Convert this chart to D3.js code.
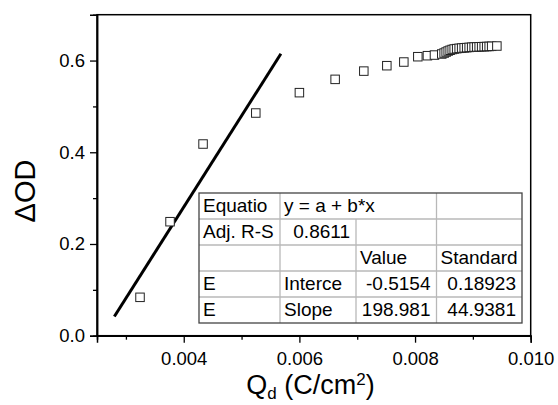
<!DOCTYPE html>
<html>
<head>
<meta charset="utf-8">
<script src="https://cdn.jsdelivr.net/npm/d3@7"></script>
<style>
  body { margin: 0; background: #fff; }
  svg { font-family: Arial, "Liberation Sans", sans-serif; }
</style>
</head>
<body>
<svg id="chart" width="558" height="405"></svg>
<script>
// measured points (Q_d, dOD)
const qd = [0.003244, 0.003763, 0.004334, 0.005246, 0.0060, 0.006618, 0.007114, 0.007512,
  0.007806, 0.008048, 0.008214, 0.008336, 0.008462, 0.008503, 0.008538, 0.008573,
  0.008607, 0.008642, 0.008677, 0.008720, 0.008763, 0.008806, 0.008850, 0.008893,
  0.008936, 0.008979, 0.009022, 0.009066, 0.009109, 0.009152, 0.009196, 0.009239,
  0.009282, 0.009325, 0.009415];
const dod = [0.0837, 0.2486, 0.418, 0.4856, 0.530, 0.559, 0.577, 0.5888,
  0.5968, 0.6084, 0.6106, 0.612, 0.6143, 0.6164, 0.6186, 0.6208,
  0.6225, 0.6241, 0.6252, 0.6260, 0.6267, 0.6273, 0.6278, 0.6282,
  0.6287, 0.6291, 0.6295, 0.6297, 0.6300, 0.6302, 0.6304, 0.6306,
  0.6308, 0.6311, 0.6317];

// linear fit y = a + b*x
const fitA = -0.5154;
const fitB = 198.981;
const fitRange = [0.0028, 0.00568];

const xTicks = [0.004, 0.006, 0.008, 0.010];
const xMinor = [0.003, 0.005, 0.007, 0.009];
const yTicks = [0.0, 0.2, 0.4, 0.6];
const yMinor = [0.1, 0.3, 0.5];

// fit results table (null = merged with the cell on its left)
const tableRows = [
  ["Equatio", "y = a + b*x", null, ""],
  ["Adj. R-S", "0.8611", "", ""],
  ["", "", "Value", "Standard"],
  ["E", "Interce", "-0.5154", "0.18923"],
  ["E", "Slope", "198.981", "44.9381"]
];

const svg = d3.select("#chart");
const pLeft = 97, pRight = 530.7, pTop = 14.7, pBottom = 335.7;

const x = d3.scaleLinear().domain([0.0025, 0.010]).range([pLeft, pRight]);
const y = d3.scaleLinear().domain([0, 0.7]).range([pBottom, pTop]);

// frame
svg.append("rect")
  .attr("x", pLeft).attr("y", pTop)
  .attr("width", pRight - pLeft).attr("height", pBottom - pTop)
  .attr("fill", "none").attr("stroke", "#000").attr("stroke-width", 1.5);

// axes
svg.append("g").attr("transform", `translate(0,${pBottom})`)
  .call(d3.axisBottom(x).tickValues(xTicks).tickSize(7).tickPadding(9)
    .tickFormat(d3.format(".3f")));
svg.append("g").attr("transform", `translate(0,${pBottom})`)
  .call(d3.axisBottom(x).tickValues(xMinor).tickSize(4).tickFormat(""));
svg.append("g").attr("transform", `translate(${pLeft},0)`)
  .call(d3.axisLeft(y).tickValues(yTicks).tickSize(7).tickPadding(5)
    .tickFormat(d3.format(".1f")));
svg.append("g").attr("transform", `translate(${pLeft},0)`)
  .call(d3.axisLeft(y).tickValues(yMinor).tickSize(4).tickFormat(""));

svg.selectAll(".domain").attr("stroke", "#000").attr("stroke-width", 1.5);
svg.selectAll(".tick line").attr("stroke", "#000").attr("stroke-width", 1.3);
svg.selectAll(".tick text").attr("font-size", 18.5).attr("fill", "#000")
  .attr("font-family", "Arial, 'Liberation Sans', sans-serif");

// fit line
svg.append("line")
  .attr("x1", x(fitRange[0])).attr("y1", y(fitA + fitB * fitRange[0]))
  .attr("x2", x(fitRange[1])).attr("y2", y(fitA + fitB * fitRange[1]))
  .attr("stroke", "#000").attr("stroke-width", 3);

// data squares
const pts = qd.map((q, i) => ({ q: q, v: dod[i] }));
const sq = 8.5;
svg.append("g").selectAll("rect")
  .data(pts)
  .enter()
  .append("rect")
  .attr("x", (d) => x(d.q) - sq / 2)
  .attr("y", (d) => y(d.v) - sq / 2)
  .attr("width", sq).attr("height", sq)
  .attr("fill", "#fff").attr("stroke", "#222").attr("stroke-width", 1);

// table
const colX = [199, 280, 356, 436.5, 522];
const rowY = [193, 219, 245, 271, 297, 323];
const tbl = svg.append("g");
tbl.append("rect").attr("x", colX[0]).attr("y", rowY[0])
  .attr("width", colX[4] - colX[0]).attr("height", rowY[5] - rowY[0])
  .attr("fill", "#fff");
for (let r = 1; r < 5; r++) {
  tbl.append("line").attr("x1", colX[0]).attr("x2", colX[4])
    .attr("y1", rowY[r]).attr("y2", rowY[r])
    .attr("stroke", "#b8b8b8").attr("stroke-width", 1.3);
}
for (let c = 1; c < 4; c++) {
  tableRows.forEach((row, r) => {
    if (row[c] === null) return;
    tbl.append("line").attr("x1", colX[c]).attr("x2", colX[c])
      .attr("y1", rowY[r]).attr("y2", rowY[r + 1])
      .attr("stroke", "#b8b8b8").attr("stroke-width", 1.3);
  });
}
tbl.append("rect").attr("x", colX[0]).attr("y", rowY[0])
  .attr("width", colX[4] - colX[0]).attr("height", rowY[5] - rowY[0])
  .attr("fill", "none").attr("stroke", "#444").attr("stroke-width", 1.3);

const isNum = (s) => /^-?[0-9.]+$/.test(s);
tableRows.forEach((row, r) => {
  row.forEach((txt, c) => {
    if (!txt) return;
    const num = isNum(txt);
    tbl.append("text")
      .attr("x", num ? colX[c + 1] - 6 : colX[c] + 4)
      .attr("y", rowY[r] + 19)
      .attr("text-anchor", num ? "end" : "start")
      .attr("font-size", 19)
      .attr("fill", "#000")
      .text(txt);
  });
});

// axis titles
svg.append("text")
  .attr("transform", "translate(35,191) rotate(-90)")
  .attr("text-anchor", "middle")
  .attr("font-size", 29)
  .text("\u0394OD");

const xLab = svg.append("text")
  .attr("x", 310.5).attr("y", 394)
  .attr("text-anchor", "middle")
  .attr("font-size", 27);
xLab.append("tspan").text("Q");
xLab.append("tspan").attr("font-size", 17).attr("dy", 5).text("d");
xLab.append("tspan").attr("dy", -5).text(" (C/cm");
xLab.append("tspan").attr("font-size", 17).attr("dy", -9).text("2");
xLab.append("tspan").attr("dy", 9).text(")");
</script>
</body>
</html>
